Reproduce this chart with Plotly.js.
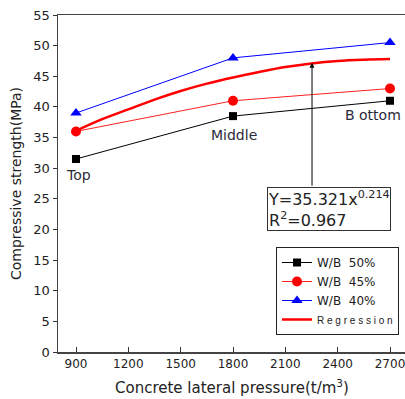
<!DOCTYPE html>
<html><head><meta charset="utf-8">
<script src="https://cdn.plot.ly/plotly-3.0.1.min.js"></script>
<style>html,body{margin:0;padding:0;background:#fff}#chart{width:405px;height:399px}</style>
</head><body><div id="chart"></div>
<script>
const pressure = [900, 1800, 2700];
const wb50 = [31.5, 38.5, 41.0];
const wb45 = [36.0, 41.0, 43.0];
const wb40 = [39.0, 48.0, 50.5];
const regX = [900, 1050, 1200, 1350, 1500, 1650, 1800, 1950, 2100, 2250, 2400, 2550, 2700];
const regY = [36.1, 38.0, 39.6, 41.2, 42.6, 43.8, 44.8, 45.7, 46.5, 47.1, 47.5, 47.7, 47.8];
const xTicks = [900, 1200, 1500, 1800, 2100, 2400, 2700];
const yTicks = [0, 5, 10, 15, 20, 25, 30, 35, 40, 45, 50, 55];
const positionLabels = ['Top', 'Middle', 'B ottom'];
const labelX = [917, 1806, 2603];
const labelY = [28.9, 35.4, 38.7];

const FONT = '"DejaVu Sans", Verdana, sans-serif';
const traces = [
  {x: pressure, y: wb50, name: 'W/B&nbsp;&nbsp;50%', mode: 'lines+markers',
   line: {color: '#000', width: 1}, marker: {symbol: 'square', size: 8, color: '#000'}},
  {x: pressure, y: wb45, name: 'W/B&nbsp;&nbsp;45%', mode: 'lines+markers',
   line: {color: '#ff2020', width: 1}, marker: {symbol: 'circle', size: 10, color: '#ff0000'}},
  {x: pressure, y: wb40, name: 'W/B&nbsp;&nbsp;40%', mode: 'lines+markers',
   line: {color: '#0000ff', width: 1}, marker: {symbol: 'triangle-up', size: 10, color: '#0000ff'}},
  {x: regX, y: regY, name: '<span style="font-size:10px;font-family:Arial,Liberation Sans">R e g r e s s i o n</span>', mode: 'lines',
   line: {color: '#ff0000', width: 2.5, shape: 'spline'}}
];

const annotations = positionLabels.map((t, i) => ({
  x: labelX[i], y: labelY[i], xref: 'x', yref: 'y', text: t, showarrow: false,
  font: {family: FONT, size: 14, color: '#2a2a3a'}
}));
annotations.push({
  x: 2253, y: 47.2, ax: 2253, ay: 26.9, axref: 'x', ayref: 'y', xref: 'x', yref: 'y',
  text: '', showarrow: true, arrowhead: 2, arrowsize: 1, arrowwidth: 1, arrowcolor: '#000'
});
annotations.push({
  x: (267 - 58) / 347, y: (352 - 187) / 337, xref: 'paper', yref: 'paper',
  xanchor: 'left', yanchor: 'top', align: 'left', showarrow: false,
  text: 'Y=35.321x<sup>0.214</sup><br>R<sup>2</sup>=0.967',
  font: {family: FONT, size: 16, color: '#222'},
  bordercolor: '#333', borderwidth: 1, borderpad: 0, bgcolor: '#fff'
});
annotations.push({
  x: 0.5, y: -(387 - 352) / 337, xref: 'paper', yref: 'paper',
  xanchor: 'center', yanchor: 'middle',
  text: 'Concrete lateral pressure(t/m<sup>3</sup>)', showarrow: false,
  font: {family: FONT, size: 15, color: '#222'}
});

const layout = {
  width: 405, height: 399,
  margin: {l: 58, r: 0, t: 15, b: 47},
  paper_bgcolor: '#fff', plot_bgcolor: '#fff',
  font: {family: FONT, color: '#222'},
  showlegend: true,
  legend: {
    x: (399 - 58) / 347, xanchor: 'right', y: (352 - 335) / 337, yanchor: 'bottom',
    bordercolor: '#222', borderwidth: 1, bgcolor: '#fff',
    font: {family: FONT, size: 12, color: '#222'}, tracegroupgap: 0
  },
  xaxis: {
    range: [796.8, 2786], tickvals: xTicks, ticktext: xTicks.map(String),
    ticks: 'inside', ticklen: 5, tickcolor: '#333', showgrid: false, zeroline: false,
    showline: true, linecolor: '#444', linewidth: 1.5, mirror: true,
    ticklabeloverflow: 'allow',
    tickfont: {family: FONT, size: 12, color: '#222'}
  },
  yaxis: {
    range: [0, 55], tickvals: yTicks, ticktext: yTicks.map(String),
    ticks: 'outside', ticklen: 4, tickcolor: '#333', showgrid: false, zeroline: false,
    showline: true, linecolor: '#444', linewidth: 1.5,
    tickfont: {family: FONT, size: 13, color: '#222'},
    title: {text: 'Compressive strength(MPa)', font: {family: FONT, size: 14, color: '#222'}, standoff: 8}
  },
  annotations: annotations
};
Plotly.newPlot('chart', traces, layout, {displayModeBar: false, staticPlot: true});
</script></body></html>
